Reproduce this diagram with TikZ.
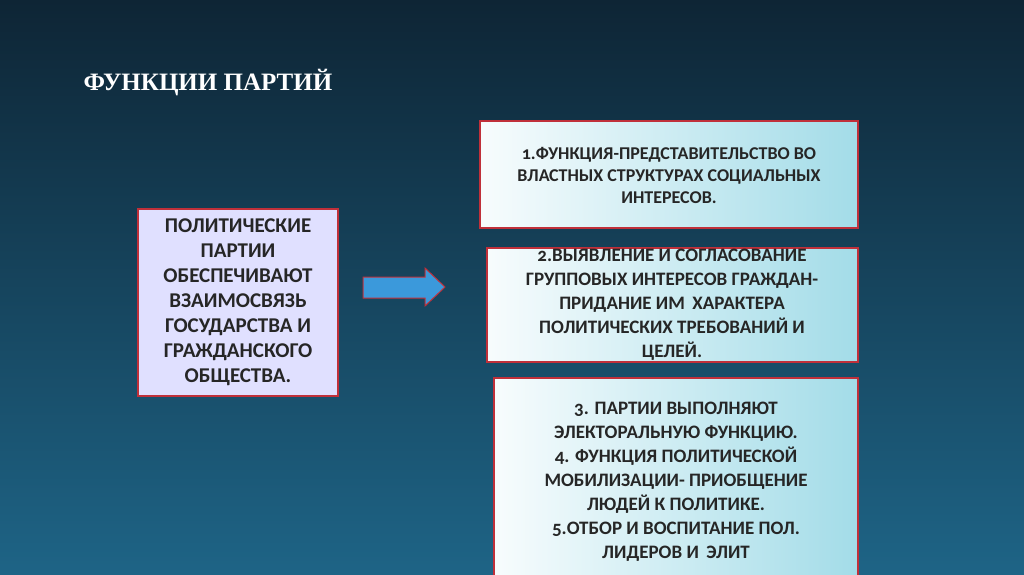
\documentclass[tikz,border=0pt]{standalone}
\usepackage{fontspec}
\setmainfont{Carlito}[Numbers=OldStyle]
\newfontfamily\titlefont{Liberation Serif}
\begin{document}
\begin{tikzpicture}[x=1pt,y=-1pt]
\definecolor{bgtop}{HTML}{0E2535}
\definecolor{bgbot}{HTML}{1E6486}
\definecolor{boxr}{HTML}{A3DCE8}
\definecolor{bred}{HTML}{C0303A}
\tikzset{
 fbox/.style={draw=bred,line width=1.2pt,left color=white!92!boxr,right color=boxr},
 ftext/.style={align=center,font=\bfseries\fontsize{19}{24}\selectfont,text=black!85}
}
\useasboundingbox (0,0) rectangle (1024,574);
\shade[top color=bgtop,bottom color=bgbot] (0,0) rectangle (1024,574);
\node[anchor=west,text=white,font=\titlefont\bfseries\fontsize{25}{28}\selectfont] (title) at (80,83) {ФУНКЦИИ ПАРТИЙ};
\draw[draw=bred,line width=1.5pt,fill=blue!12!white] (138,209) rectangle (338,396);
\node[align=center,font=\bfseries\fontsize{21}{25}\selectfont,text=black!85] (left) at (238,302) {ПОЛИТИЧЕСКИЕ\\ПАРТИИ\\ОБЕСПЕЧИВАЮТ\\ВЗАИМОСВЯЗЬ\\ГОСУДАРСТВА И\\ГРАЖДАНСКОГО\\ОБЩЕСТВА.};
\draw[draw=bred,line width=1pt,fill=cyan!70!blue!80!white] (363,277) -- (425,277) -- (425,268) -- (445,287) -- (425,306) -- (425,298) -- (363,298) -- cycle;
\draw[fbox] (480,121) rectangle (858,228);
\node[ftext,font=\bfseries\fontsize{18}{22}\selectfont] (f1) at (669,175) {1.ФУНКЦИЯ-ПРЕДСТАВИТЕЛЬСТВО ВО\\ВЛАСТНЫХ СТРУКТУРАХ СОЦИАЛЬНЫХ\\ИНТЕРЕСОВ.};
\draw[fbox] (487,248) rectangle (858,362);
\node[ftext] (f2) at (672,305) {2.ВЫЯВЛЕНИЕ И СОГЛАСОВАНИЕ\\ГРУППОВЫХ ИНТЕРЕСОВ ГРАЖДАН-\\ПРИДАНИЕ ИМ\, ХАРАКТЕРА\\ПОЛИТИЧЕСКИХ ТРЕБОВАНИЙ И\\ЦЕЛЕЙ.};
\draw[fbox] (494,378) rectangle (858,580);
\node[ftext] (f3) at (676,482) {3. ПАРТИИ ВЫПОЛНЯЮТ\\ЭЛЕКТОРАЛЬНУЮ ФУНКЦИЮ.\\4. ФУНКЦИЯ ПОЛИТИЧЕСКОЙ\\МОБИЛИЗАЦИИ- ПРИОБЩЕНИЕ\\ЛЮДЕЙ К ПОЛИТИКЕ.\\5.ОТБОР И ВОСПИТАНИЕ ПОЛ.\\ЛИДЕРОВ И\, ЭЛИТ};
\end{tikzpicture}
\end{document}
